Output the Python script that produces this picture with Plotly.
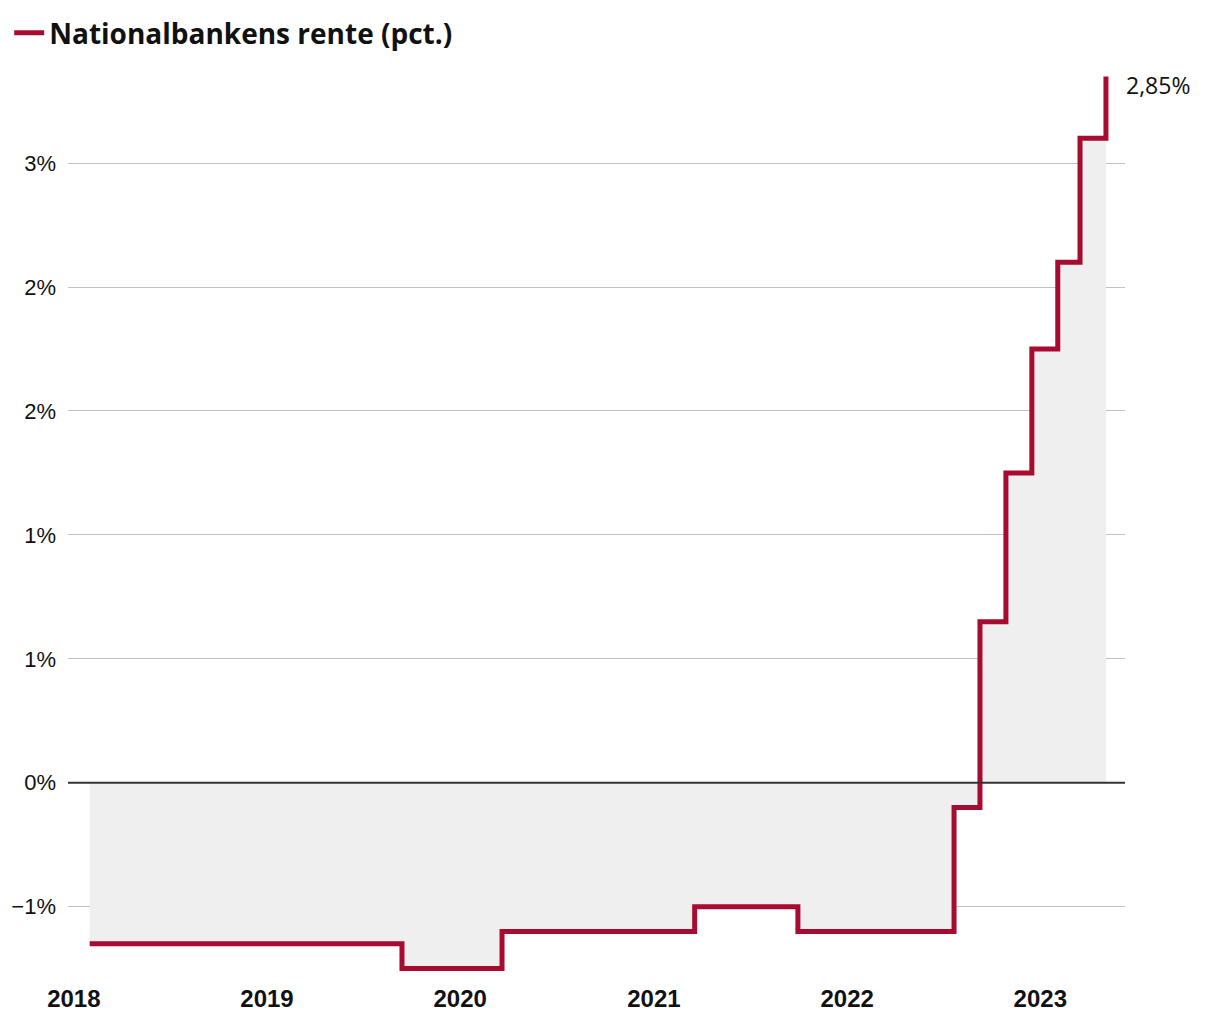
import plotly.graph_objects as go

# Data: Danmarks Nationalbank policy rate (pct.), step changes
dates = ['2018-01-31', '2019-09-13', '2020-03-20', '2021-03-19', '2021-09-30',
         '2022-07-22', '2022-09-09', '2022-10-28', '2022-12-16', '2023-02-03',
         '2023-03-17', '2023-05-05']
rates = [-0.65, -0.75, -0.60, -0.50, -0.60, -0.10, 0.65, 1.25, 1.75, 2.10, 2.60, 2.85]

y_tickvals = [-0.5, 0, 0.5, 1.0, 1.5, 2.0, 2.5]
y_ticktext = ['\u22121%', '0%', '1%', '1%', '2%', '2%', '3%']
x_tickvals = ['2018-01-01', '2019-01-01', '2020-01-01', '2021-01-01', '2022-01-01', '2023-01-01']
x_ticktext = ['2018', '2019', '2020', '2021', '2022', '2023']

series_name = 'Nationalbankens rente (pct.)'
RED = '#a80b30'

fig = go.Figure()
fig.add_trace(go.Scatter(
    x=dates, y=rates, mode='lines', line_shape='hv',
    line=dict(width=0, color='rgba(0,0,0,0)'),
    fill='tozeroy', fillcolor='#efefef', showlegend=False, hoverinfo='skip'))
fig.add_trace(go.Scatter(
    x=dates, y=rates, mode='lines', line_shape='hv',
    line=dict(width=5, color=RED), name='<b>' + series_name + '</b>',
    showlegend=True))

last_label = ('%.2f' % rates[-1]).replace('.', ',') + '%'
fig.add_annotation(x=dates[-1], y=rates[-1], text=last_label, showarrow=False,
                   xanchor='left', yanchor='middle', xshift=18, yshift=-9,
                   font=dict(family='Open Sans', size=23, color='#111'))

# zero baseline drawn above the fill
fig.add_shape(type='line', xref='paper', x0=0, x1=1, yref='y', y0=0, y1=0,
              line=dict(color='#333333', width=2.2), layer='above')

fig.update_layout(
    width=1212, height=1012,
    margin=dict(l=60, r=95, t=56, b=38.6, autoexpand=False),
    plot_bgcolor='white', paper_bgcolor='white',
    showlegend=True,
    legend=dict(xref='container', yref='container', x=0.001, y=1.0,
                xanchor='left', yanchor='top',
                font=dict(family='Open Sans', size=28, color='#111'),
                bgcolor='rgba(0,0,0,0)', itemwidth=30),
    xaxis=dict(type='date', range=['2017-12-21', '2023-06-10'],
               tickvals=x_tickvals, ticktext=x_ticktext, automargin=False,
               showgrid=False, zeroline=False, showline=False, ticks='',
               tickfont=dict(family='Liberation Sans', size=24, color='#111', weight='bold'),
               ticklabelstandoff=1),
    yaxis=dict(range=[-0.8, 2.9], tickvals=y_tickvals, ticktext=y_ticktext,
               automargin=False,
               showgrid=True, gridcolor='#c2c2c2', gridwidth=1.4,
               zeroline=False, showline=False, ticks='',
               tickfont=dict(family='Liberation Sans', size=22, color='#111'),
               ticklabelstandoff=11),
)

fig.write_html('out.html')
